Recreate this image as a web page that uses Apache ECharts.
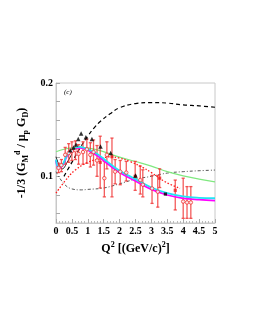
<!DOCTYPE html>
<html>
<head>
<meta charset="utf-8">
<script src="https://cdn.jsdelivr.net/npm/echarts@6/dist/echarts.min.js"></script>
<style>html,body{margin:0;padding:0;background:#fff}#c{width:254px;height:329px}</style>
</head>
<body>
<div id="c"></div>
<script>
// ---- data ----
const yTickValues = [0.06, 0.08, 0.10, 0.12, 0.14, 0.16, 0.18, 0.20];
const yLabelValues = [0.1, 0.2];

const greenX = [0, 0.25, 0.5, 0.76, 1.0, 1.39, 2.0, 2.5, 3.0, 3.5, 4.0, 4.5, 5.0];
const greenY = [0.1264, 0.129, 0.1305, 0.131, 0.1305, 0.1275, 0.1206, 0.1159, 0.111, 0.105, 0.1005, 0.097, 0.094];

const cyanX = [0, 0.08, 0.2, 0.37, 0.58, 0.75, 1.0, 1.3, 1.6, 2.0, 2.5, 3.0, 3.5, 4.0, 4.5, 5.0];
const cyanY = [0.118, 0.110, 0.112, 0.124, 0.130, 0.1315, 0.129, 0.124, 0.116, 0.106, 0.097, 0.088, 0.082, 0.0785, 0.077, 0.0765];

const magX = [0, 0.08, 0.2, 0.37, 0.58, 0.75, 1.0, 1.3, 1.6, 2.0, 2.5, 3.0, 3.5, 4.0, 4.5, 5.0];
const magY = [0.117, 0.109, 0.111, 0.123, 0.129, 0.1305, 0.128, 0.122, 0.114, 0.104, 0.095, 0.086, 0.080, 0.0765, 0.075, 0.074];

const blackSolidX = [0, 0.1, 0.2, 0.35, 0.5];
const blackSolidY = [0.121, 0.112, 0.108, 0.115, 0.124];

const redDotX = [0, 0.26, 0.58, 1.0, 1.4, 1.7, 2.0, 2.34, 2.7, 3.0, 3.44, 3.9];
const redDotY = [0.082, 0.094, 0.106, 0.115, 0.119, 0.121, 0.1195, 0.1157, 0.110, 0.104, 0.094, 0.087];

const dashX = [0.25, 0.5, 0.75, 1.0, 1.2, 1.4, 1.7, 2.0, 2.5, 3.0, 3.5, 4.0, 4.5, 5.0];
const dashY = [0.100, 0.115, 0.130, 0.143, 0.152, 0.159, 0.167, 0.1735, 0.178, 0.179, 0.1785, 0.1765, 0.1755, 0.174];

const dashDotX = [0, 0.25, 0.5, 0.8, 1.0, 1.5, 2.0, 2.5, 3.0, 3.5, 4.0, 4.5, 5.0];
const dashDotY = [0.105, 0.092, 0.0865, 0.0855, 0.086, 0.0875, 0.092, 0.097, 0.100, 0.1035, 0.105, 0.106, 0.1067];

const redX  = [0.08, 0.17, 0.29, 0.4, 0.5, 0.61, 0.71, 0.85, 0.97, 1.08, 1.18, 1.29, 1.39, 1.52, 1.6, 1.76, 1.86, 2.02, 2.21, 2.49, 2.65, 2.73, 3.02, 3.2, 3.26, 3.75, 4.0, 4.12, 4.24];
const redY  = [0.109, 0.112, 0.123, 0.125, 0.127, 0.128, 0.124, 0.126, 0.129, 0.123, 0.126, 0.117, 0.115, 0.098, 0.123, 0.121, 0.105, 0.105, 0.104, 0.100, 0.096, 0.091, 0.087, 0.0835, 0.098, 0.085, 0.073, 0.072, 0.072];
const redLo = [0.104, 0.105, 0.113, 0.115, 0.117, 0.118, 0.113, 0.113, 0.114, 0.110, 0.112, 0.100, 0.0875, 0.078, 0.108, 0.078, 0.092, 0.091, 0.095, 0.085, 0.081, 0.078, 0.071, 0.067, 0.088, 0.064, 0.055, 0.055, 0.055];
const redHi = [0.114, 0.118, 0.131, 0.135, 0.137, 0.138, 0.134, 0.137, 0.140, 0.136, 0.139, 0.133, 0.143, 0.116, 0.137, 0.141, 0.118, 0.117, 0.116, 0.116, 0.111, 0.107, 0.101, 0.101, 0.108, 0.096, 0.098, 0.089, 0.089];
const redKind = ['c','c','c','c','c','c','c','c','c','c','c','c','s','c','c','s','c','c','c','s','c','c','c','c','s','s','c','c','c'];

const triX = [0.45, 0.55, 0.63, 0.7, 0.79, 0.94, 1.13, 1.4, 1.72, 2.5];
const triY = [0.128, 0.131, 0.134, 0.140, 0.146, 0.142, 0.140, 0.132, 0.125, 0.101];
const blackSqX = [3.44];
const blackSqY = [0.081];

// ---- chart ----
const zip = (a, b) => a.map((v, i) => [v, b[i]]);
const serif = 'Liberation Serif';
const chart = echarts.init(document.getElementById('c'));

function line(xs, ys, color, width, type, z) {
  return {
    type: 'line', data: zip(xs, ys), smooth: 0.4, showSymbol: false, symbol: 'none',
    lineStyle: { color: color, width: width, type: type }, z: z || 3, silent: true
  };
}

const errData = redX.map((x, i) => [x, redLo[i], redHi[i]]);

chart.setOption({
  animation: false,
  title: {
    text: '(c)', left: 59, top: 84,
    textStyle: { fontFamily: serif, fontSize: 7, fontStyle: 'italic', fontWeight: 'normal', color: '#000' }
  },
  grid: { left: 56, right: 39, top: 83, bottom: 106, show: true, borderColor: '#c8c8c8', borderWidth: 1, backgroundColor: 'transparent' },
  xAxis: {
    type: 'value', min: 0, max: 5, interval: 0.5,
    axisLine: { lineStyle: { color: '#c8c8c8' } },
    axisTick: { inside: true, length: 4, lineStyle: { color: '#aaa' } },
    minorTick: { show: true, splitNumber: 5, length: 2, lineStyle: { color: '#bbb' } },
    splitLine: { show: false },
    axisLabel: { fontFamily: serif, fontWeight: 'bold', fontSize: 10, color: '#000', margin: 3 },
    name: 'Q{sup|2} [(GeV/c){sup|2}]',
    nameLocation: 'middle', nameGap: 18,
    nameTextStyle: {
      fontFamily: serif, fontWeight: 'bold', fontSize: 12, color: '#000', lineHeight: 16,
      rich: { sup: { fontFamily: serif, fontWeight: 'bold', fontSize: 8, verticalAlign: 'top', color: '#000', lineHeight: 16 } }
    }
  },
  yAxis: {
    type: 'value', min: 0.05, max: 0.2,
    axisLine: { lineStyle: { color: '#c8c8c8' } },
    axisTick: { inside: true, length: 4, customValues: yTickValues, lineStyle: { color: '#aaa' } },
    splitLine: { show: false },
    axisLabel: { fontFamily: serif, fontWeight: 'bold', fontSize: 10, color: '#000', margin: 3, customValues: yLabelValues,
      formatter: v => String(Math.round(v * 100) / 100) },
    name: '-1/3 (G{sub|M}{sup|d} / μ{sub|p} G{sub|D})',
    nameLocation: 'middle', nameGap: 22, nameRotate: 90,
    nameTextStyle: {
      fontFamily: serif, fontWeight: 'bold', fontSize: 12, color: '#000', lineHeight: 16,
      rich: {
        sup: { fontFamily: serif, fontWeight: 'bold', fontSize: 8, verticalAlign: 'top', color: '#000', lineHeight: 16 },
        sub: { fontFamily: serif, fontWeight: 'bold', fontSize: 8, verticalAlign: 'bottom', color: '#000', lineHeight: 16 }
      }
    }
  },
  series: [
    line(dashX, dashY, '#000', 1.2, [4, 3], 3),
    line(dashDotX, dashDotY, '#444', 0.9, [3, 2, 1, 2], 3),
    line(greenX, greenY, '#7fe87f', 1.2, 'solid', 3),
    line(blackSolidX, blackSolidY, '#111', 1, 'solid', 3),
    {
      type: 'custom', z: 4, silent: true,
      data: errData,
      renderItem: function (params, api) {
        const x = api.value(0);
        const lo = api.coord([x, api.value(1)]);
        const hi = api.coord([x, api.value(2)]);
        const c = 1.6;
        const st = { stroke: 'rgba(240,50,50,0.8)', lineWidth: 1.3 };
        return {
          type: 'group', children: [
            { type: 'line', shape: { x1: lo[0], y1: lo[1], x2: hi[0], y2: hi[1] }, style: st },
            { type: 'line', shape: { x1: lo[0] - c, y1: lo[1], x2: lo[0] + c, y2: lo[1] }, style: st },
            { type: 'line', shape: { x1: hi[0] - c, y1: hi[1], x2: hi[0] + c, y2: hi[1] }, style: st }
          ]
        };
      }
    },
    line(redDotX, redDotY, '#ff1a1a', 1.3, [1.5, 1.8], 5),
    line(magX, magY, '#ff00ff', 1.8, 'solid', 6),
    line(cyanX, cyanY, '#22e4f4', 1.8, 'solid', 7),
    {
      type: 'scatter', z: 8, silent: true,
      data: redX.map((x, i) => redKind[i] === 'c' ? [x, redY[i]] : null).filter(d => d),
      symbol: 'circle', symbolSize: 3.5,
      itemStyle: { color: '#fff', borderColor: '#f03030', borderWidth: 1 }
    },
    {
      type: 'scatter', z: 8, silent: true,
      data: redX.map((x, i) => redKind[i] === 's' ? [x, redY[i]] : null).filter(d => d),
      symbol: 'rect', symbolSize: 3.2,
      itemStyle: { color: '#f02020' }
    },
    {
      type: 'scatter', z: 9, silent: true, data: zip(triX, triY),
      symbol: 'triangle', symbolSize: 4.5, itemStyle: { color: '#000' }
    },
    {
      type: 'scatter', z: 9, silent: true, data: zip(blackSqX, blackSqY),
      symbol: 'rect', symbolSize: 3.2, itemStyle: { color: '#000' }
    }
  ]
});
</script>
</body>
</html>
